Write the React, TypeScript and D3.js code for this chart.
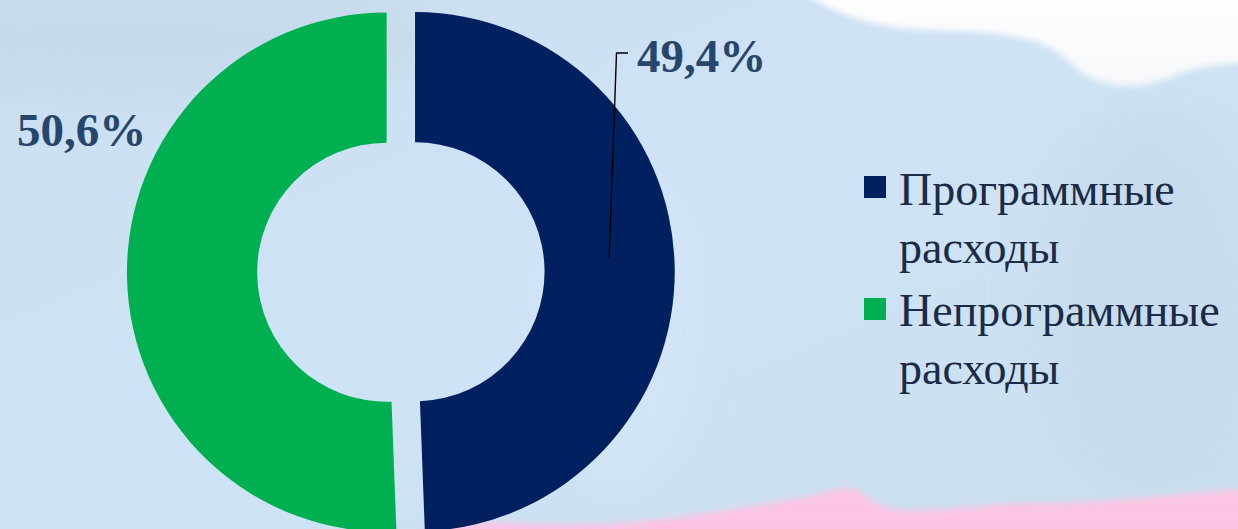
import React from "react";
import * as d3 from "d3";

const categories = ["Программные расходы", "Непрограммные расходы"];
const legendLines = [["Программные", "расходы"], ["Непрограммные", "расходы"]];
const values = [49.4, 50.6];
const valueLabels = ["49,4%", "50,6%"];
const colors = ["#002060", "#00B050"];

const W = 1238;
const H = 529;
const SERIF = '"Liberation Serif", "Times New Roman", Tinos, serif';

export default function App() {
  const cx = 400.85;
  const cy = 272;
  const outerR = 259.7;
  const innerR = 129.5;
  const explode = 14.2;

  const pie = d3
    .pie<number>()
    .sort(null)
    .value((d) => d)
    .startAngle(0)
    .endAngle(2 * Math.PI);
  const arcs = pie(values);
  const arcGen = d3.arc<d3.PieArcDatum<number>>().innerRadius(innerR).outerRadius(outerR);

  const offsets = arcs.map((a) => {
    const mid = (a.startAngle + a.endAngle) / 2;
    const [ox, oy] = d3.pointRadial(mid, explode);
    return [cx + ox, cy + oy];
  });

  const a0 = arcs[0];
  const mid0 = (a0.startAngle + a0.endAngle) / 2 - 0.05;
  const [lx, ly] = d3.pointRadial(mid0, (innerR + outerR) / 2);
  const leadStart = [offsets[0][0] + lx, offsets[0][1] + ly];

  const labelPos = [
    { x: 637, y: 72 },
    { x: 17, y: 146 },
  ];

  const legendFont = 46;
  const squareTop = [176, 298];
  const lineBase = [
    [205, 263],
    [326, 384],
  ];

  return (
    <svg
      width={W}
      height={H}
      style={{ position: "absolute", left: 0, top: 0, display: "block" }}
      viewBox={`0 0 ${W} ${H}`}
    >
      <defs>
        <linearGradient id="bg" x1="0" y1="0" x2="1" y2="1">
          <stop offset="0" stopColor="#cbdff1" />
          <stop offset="0.5" stopColor="#cee3f5" />
          <stop offset="1" stopColor="#c9dfef" />
        </linearGradient>
        <linearGradient id="white" x1="0" y1="0" x2="0" y2="1">
          <stop offset="0" stopColor="#ffffff" />
          <stop offset="1" stopColor="#f6f8fa" />
        </linearGradient>
        <linearGradient id="pink" x1="0" y1="0" x2="0" y2="1">
          <stop offset="0" stopColor="#fbc6e4" />
          <stop offset="1" stopColor="#ffc2e4" />
        </linearGradient>
        <filter id="blur" x="-10%" y="-10%" width="120%" height="120%">
          <feGaussianBlur stdDeviation="3" />
        </filter>
        <filter id="blurBig" x="-20%" y="-20%" width="140%" height="140%">
          <feGaussianBlur stdDeviation="18" />
        </filter>
      </defs>

      <rect x={0} y={0} width={W} height={H} fill="url(#bg)" />
      <g filter="url(#blurBig)" opacity={0.5}>
        <ellipse cx={150} cy={40} rx={300} ry={60} fill="#c3d6e6" />
        <ellipse cx={1150} cy={300} rx={120} ry={200} fill="#c4d8e8" />
        <ellipse cx={620} cy={330} rx={80} ry={160} fill="#d6e8f8" />
      </g>
      <g filter="url(#blur)">
        <path
          d="M 800 -10 L 815 0 C 850 20, 880 28, 930 30 C 1000 32, 1040 36, 1065 58 C 1085 78, 1100 85, 1130 86 C 1160 86, 1180 70, 1210 66 L 1250 62 L 1250 -10 Z"
          fill="url(#white)"
        />
        <path
          d="M 420 540 L 430 524 C 470 520, 540 526, 600 524 C 680 520, 740 508, 800 498 C 830 492, 845 484, 858 490 C 870 500, 880 510, 910 510 C 960 510, 1000 502, 1040 503 C 1100 503, 1180 494, 1250 488 L 1250 540 Z"
          fill="url(#pink)"
        />
      </g>

      {arcs.map((a, i) => (
        <path
          key={categories[i]}
          d={arcGen(a) as string}
          transform={`translate(${offsets[i][0]},${offsets[i][1]})`}
          fill={colors[i]}
        />
      ))}

      <polyline
        points={`${leadStart[0]},${leadStart[1]} 616.5,53 628,53`}
        fill="none"
        stroke="#000000"
        strokeWidth={1.4}
      />

      {valueLabels.map((t, i) => (
        <text
          key={t}
          x={labelPos[i].x}
          y={labelPos[i].y}
          style={{ fontFamily: SERIF, fontWeight: 700, fontSize: "47px" }}
          fill="#27466b"
        >
          {t}
        </text>
      ))}

      {[0, 1].map((i) => (
        <g key={categories[i]}>
          <rect x={864} y={squareTop[i]} width={22} height={22} fill={colors[i]} />
          {legendLines[i].map((line, j) => (
            <text
              key={j}
              x={899}
              y={lineBase[i][j]}
              style={{ fontFamily: SERIF, fontSize: `${legendFont}px` }}
              fill="#1b2a47"
            >
              {line}
            </text>
          ))}
        </g>
      ))}
    </svg>
  );
}
